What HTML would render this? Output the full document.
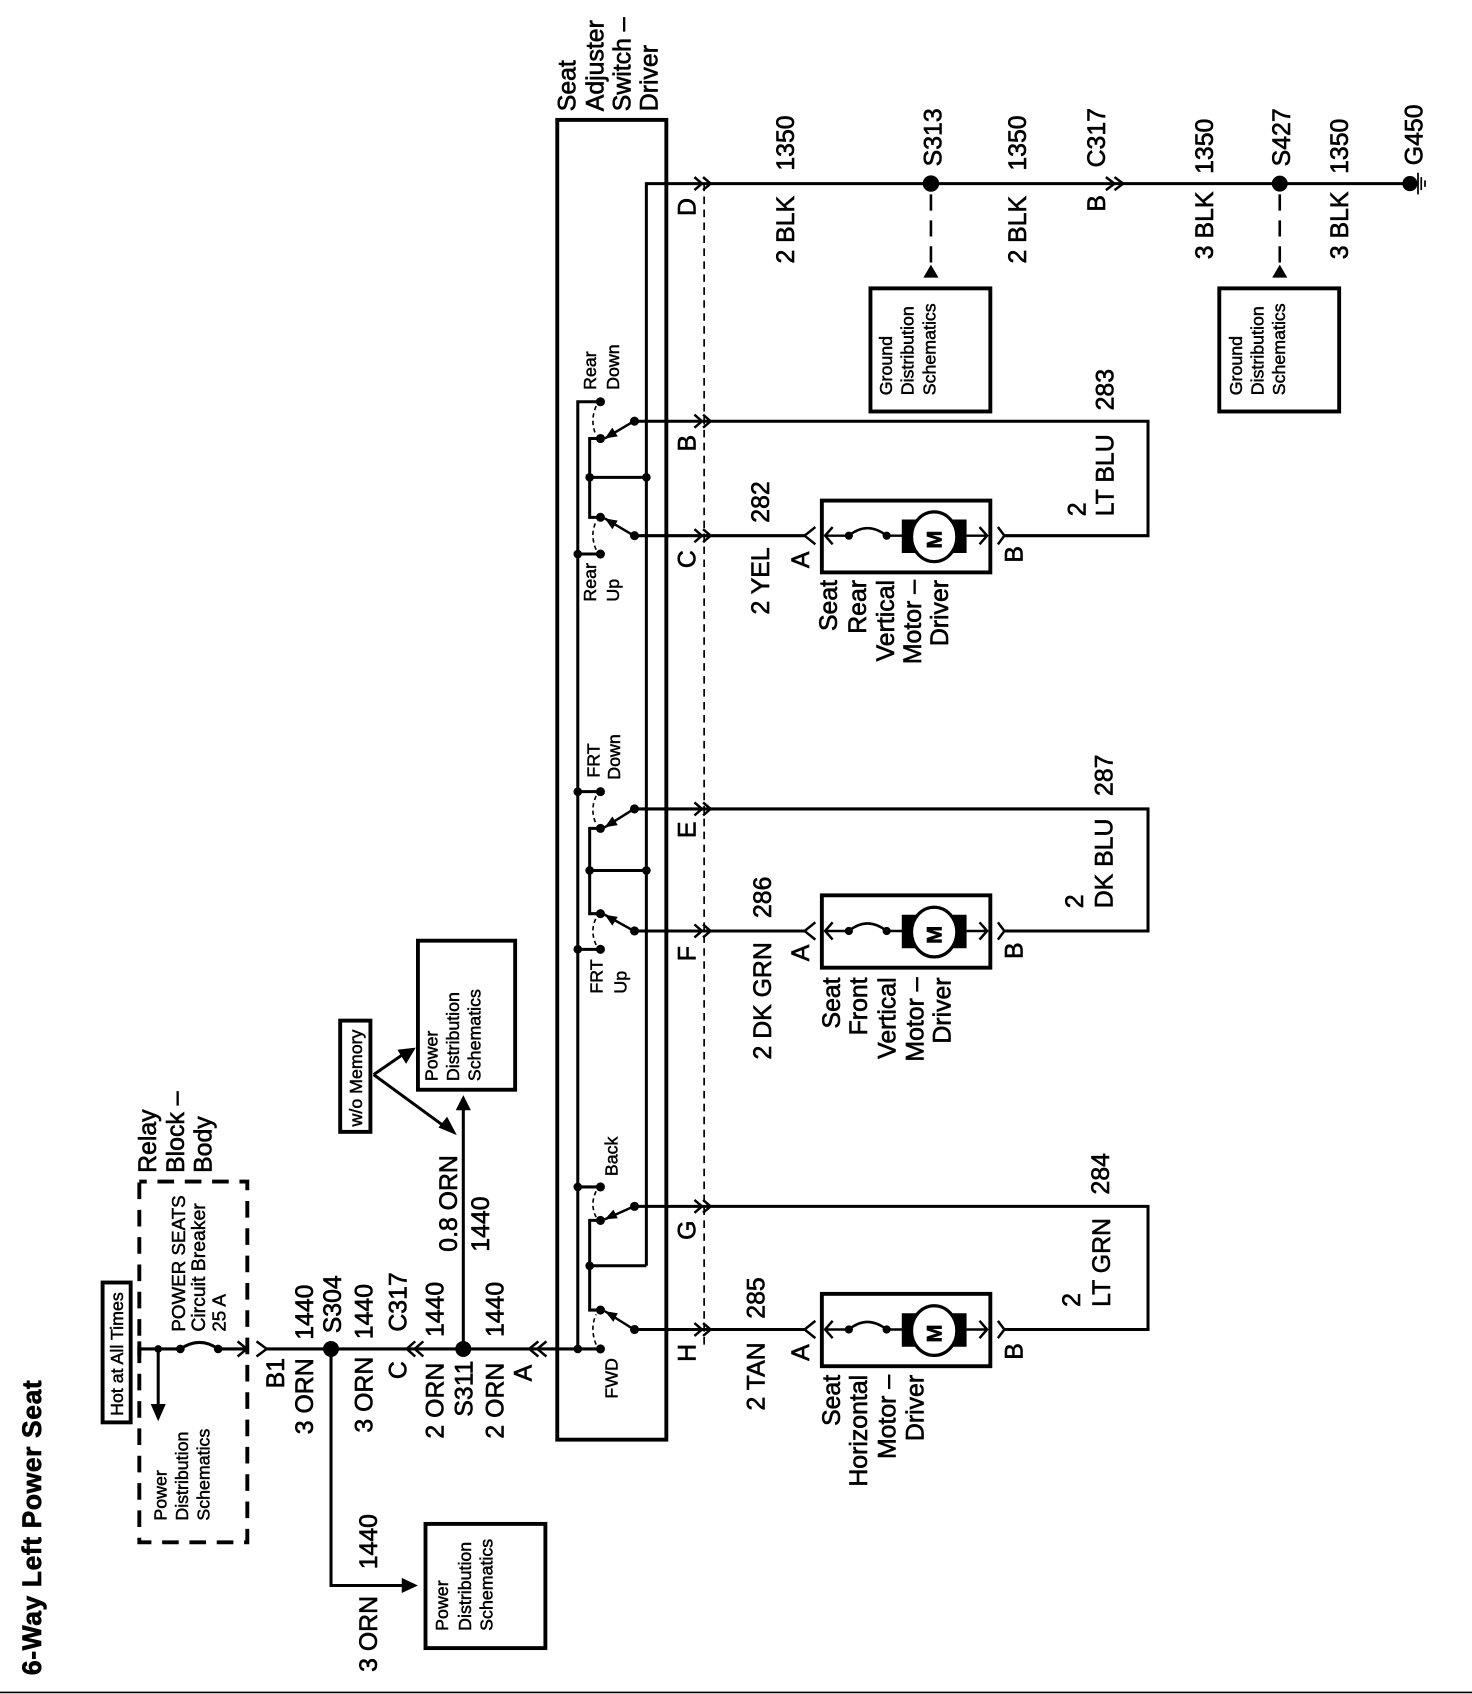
<!DOCTYPE html>
<html><head><meta charset="utf-8"><style>
html,body{margin:0;padding:0;background:#fff;width:1472px;height:1694px;overflow:hidden}
svg{display:block}
text{font-family:"Liberation Sans",sans-serif;fill:#000;stroke:#000;stroke-width:.6}
.b{font-size:23px}.s{font-size:16.5px}.s text{stroke-width:.45}
.e{text-anchor:end}
.w{fill:none;stroke:#000;stroke-width:2.8}
.k{fill:none;stroke:#000;stroke-width:3.6}
.c{fill:none;stroke:#000;stroke-width:2.3}
.f{fill:#000;stroke:none}
</style></head><body>
<svg width="1472" height="1694" viewBox="0 0 1363 1568.5" preserveAspectRatio="none" xmlns="http://www.w3.org/2000/svg">
<rect width="1363" height="1569" fill="#fff"/>
<path d="M0 1567H1363" stroke="#000" stroke-width="1.5"/>
<text transform="matrix(0 -1 1 0 38 1551)" style="font-size:24.5px;font-weight:bold" textLength="273">6-Way Left Power Seat</text>

<!-- switch box -->
<rect class="k" x="516" y="111" width="101" height="1222"/>
<path d="M652 170V1245" stroke="#000" stroke-width="1.6" stroke-dasharray="7 5" fill="none"/>
<g class="b">
<text transform="matrix(0 -1 1 0 533 103)">Seat</text>
<text transform="matrix(0 -1 1 0 559 103)">Adjuster</text>
<text transform="matrix(0 -1 1 0 584 103)">Switch –</text>
<text transform="matrix(0 -1 1 0 609 103)">Driver</text>
</g>

<!-- wires -->
<path class="w" d="M598.5 1172V170H1305"/>
<path class="w" d="M546 1172H598.5"/>
<path class="w" d="M535 1249V372H556M535 513H556M535 733H556M535 879H556M535 1099H556"/>
<path class="w" d="M587 390H1063V496H930"/>
<path class="w" d="M587 496H745"/>
<path class="w" d="M587 749H1063V862H930"/>
<path class="w" d="M587 862H745"/>
<path class="w" d="M587 1117H1063V1231H930"/>
<path class="w" d="M587 1231H745"/>
<path class="w" d="M555 406H546V479H555M546 442H598"/>
<path class="w" d="M555 767H546V846H555M546 806H598"/>
<path class="w" d="M555 1130H546V1213H555"/>
<path class="w" d="M129 1249H167M202 1249H228M247 1249H555"/>
<path class="w" d="M167 1249Q185 1237 202 1249"/>
<path d="M129 1242V1256" stroke="#000" stroke-width="3.6"/>
<path class="w" d="M146.5 1249V1305"/>
<path class="f" d="M146.5 1316L139.5 1300H153.5Z"/>
<path class="w" d="M306.5 1249V1468H375"/>
<path class="f" d="M387 1468L372 1461V1475Z"/>
<path class="w" d="M429 1249V1025"/>
<path class="f" d="M429 1014L422 1028H436Z"/>
<path class="w" d="M346 995L375 975M346 995L413 1044"/>
<path class="f" d="M385 970L368 972L376 985Z"/>
<path class="f" d="M423 1051L406 1044L414 1034Z"/>

<!-- wipers -->
<path class="c" d="M587 390L560 406M587 496L560 480M587 749L560 766M587 862L560 847M587 1117L560 1129M587 1231L560 1214"/>
<path class="f" d="M560 406L572 404L567 396Z M560 480L572 482L567 490Z M560 766L572 764L567 756Z M560 847L572 849L567 857Z M560 1129L572 1128L568 1120Z M560 1214L572 1216L568 1224Z"/>
<!-- dotted arcs -->
<path d="M552 376Q546 390 552 403M552 509Q546 495 552 483M552 737Q546 750 552 763M552 875Q546 862 552 850M552 1103Q546 1115 552 1127M552 1245Q546 1230 552 1217" fill="none" stroke="#000" stroke-width="1.5" stroke-dasharray="4 3"/>

<!-- dots -->
<g class="f">
<circle cx="556" cy="372" r="4.2"/><circle cx="556" cy="406" r="4.2"/><circle cx="587.5" cy="390" r="4.2"/><circle cx="546" cy="442" r="4"/><circle cx="598.5" cy="442" r="4"/><circle cx="556" cy="479" r="4.2"/><circle cx="587.5" cy="496" r="4.2"/><circle cx="556" cy="513" r="4.2"/><circle cx="535" cy="513" r="4"/>
<circle cx="556" cy="733" r="4.2"/><circle cx="535" cy="733" r="4"/><circle cx="556" cy="767" r="4.2"/><circle cx="587.5" cy="749" r="4.2"/><circle cx="546" cy="806" r="4"/><circle cx="598.5" cy="806" r="4"/><circle cx="556" cy="846" r="4.2"/><circle cx="587.5" cy="862" r="4.2"/><circle cx="556" cy="879" r="4.2"/><circle cx="535" cy="879" r="4"/>
<circle cx="556" cy="1099" r="4.2"/><circle cx="535" cy="1099" r="4"/><circle cx="556" cy="1130" r="4.2"/><circle cx="587.5" cy="1117" r="4.2"/><circle cx="546" cy="1172" r="4"/><circle cx="556" cy="1213" r="4.2"/><circle cx="587.5" cy="1231" r="4.2"/><circle cx="556" cy="1249" r="4.2"/><circle cx="535" cy="1249" r="4"/>
<circle cx="862" cy="170" r="7.6"/><circle cx="1185" cy="170" r="7.4"/><circle cx="1305.5" cy="170" r="7"/>
<circle cx="306.5" cy="1249" r="7.4"/><circle cx="429" cy="1249" r="7.4"/>
<circle cx="146.5" cy="1249" r="3.5"/><circle cx="167" cy="1249" r="4"/><circle cx="202" cy="1249" r="4"/>
</g>

<!-- chevrons -->
<path class="c" d="M643 164L650 170L643 176M651 164L658 170L651 176M643 384L650 390L643 396M651 384L658 390L651 396M643 490L650 496L643 502M651 490L658 496L651 502M643 743L650 749L643 755M651 743L658 749L651 755M643 856L650 862L643 868M651 856L658 862L651 868M643 1111L650 1117L643 1123M651 1111L658 1117L651 1123M643 1225L650 1231L643 1237M651 1225L658 1231L651 1237"/>
<path class="c" d="M1024 164L1032 170L1024 176M1032 164L1040 170L1032 176"/>
<path class="c" d="M220 1242L228.5 1249L220 1256M237.5 1242L247 1249L237.5 1256"/>
<path class="c" d="M384.5 1242L376.5 1249L384.5 1256M392 1242L384 1249L392 1256M498.5 1242L490 1249L498.5 1256M506 1242L497.5 1249L506 1256"/>
<!-- ground -->
<path d="M1313 160V180M1316 164V176M1319.5 167V173" stroke="#000" stroke-width="1.6" fill="none"/>

<!-- ground dashes & boxes -->
<path d="M862 170V250M1185 170V250" fill="none" stroke="#000" stroke-width="2.4" stroke-dasharray="15 9" stroke-dashoffset="-10"/>
<path class="f" d="M862 245L855 257H869Z M1185 245L1178 257H1192Z"/>
<rect class="k" x="806" y="267" width="111" height="114"/>
<rect class="k" x="1129" y="267" width="111" height="114"/>
<rect class="k" x="387" y="871" width="90" height="138"/>
<rect class="k" x="394" y="1411" width="111" height="115"/>
<rect class="k" x="95" y="1187.5" width="26" height="129.5"/>
<rect class="k" x="315" y="945" width="28" height="103"/>
<rect x="129" y="1094" width="100" height="334" fill="none" stroke="#000" stroke-width="3.6" stroke-dasharray="15.4 9.9" stroke-dashoffset="8.5"/>

<!-- motors -->
<rect class="k" x="761" y="463.5" width="156" height="66.5"/>
<rect class="k" x="761" y="829" width="156" height="67"/>
<rect class="k" x="761" y="1198" width="156" height="67"/>
<g>
<path class="c" d="M764 496H786M821 496H836M895 496H914M786 496Q803 482 821 496M771 488L764 496L771 504M907 488L914 496L907 504M755 488L745 496L755 504M924 488L930 496L924 504"/>
<path class="f" d="M835 481H895V512H835Z"/>
<ellipse cx="865" cy="497" rx="21" ry="23" fill="#fff" stroke="#000" stroke-width="3"/>
<text transform="matrix(0 -1 1 0 872 508)" style="font-weight:bold;font-size:20px">M</text>
<circle class="f" cx="786" cy="496" r="3.8"/><circle class="f" cx="821" cy="496" r="3.8"/>
</g>
<g>
<path class="c" d="M764 862H786M821 862H836M895 862H914M786 862Q803 848 821 862M771 854L764 862L771 870M907 854L914 862L907 870M755 854L745 862L755 870M924 854L930 862L924 870"/>
<path class="f" d="M835 847H895V878H835Z"/>
<ellipse cx="865" cy="863" rx="21" ry="23" fill="#fff" stroke="#000" stroke-width="3"/>
<text transform="matrix(0 -1 1 0 872 874)" style="font-weight:bold;font-size:20px">M</text>
<circle class="f" cx="786" cy="862" r="3.8"/><circle class="f" cx="821" cy="862" r="3.8"/>
</g>
<g>
<path class="c" d="M764 1231H786M821 1231H836M895 1231H914M786 1231Q803 1217 821 1231M771 1223L764 1231L771 1239M907 1223L914 1231L907 1239M755 1223L745 1231L755 1239M924 1223L930 1231L924 1239"/>
<path class="f" d="M835 1216H895V1247H835Z"/>
<ellipse cx="865" cy="1232" rx="21" ry="23" fill="#fff" stroke="#000" stroke-width="3"/>
<text transform="matrix(0 -1 1 0 872 1243)" style="font-weight:bold;font-size:20px">M</text>
<circle class="f" cx="786" cy="1231" r="3.8"/><circle class="f" cx="821" cy="1231" r="3.8"/>
</g>

<!-- big labels -->
<g class="b">
<text transform="matrix(0 -1 1 0 735 158)">1350</text>
<text transform="matrix(0 -1 1 0 735 244)">2 BLK</text>
<text transform="matrix(0 -1 1 0 872 154)">S313</text>
<text transform="matrix(0 -1 1 0 950 158)">1350</text>
<text transform="matrix(0 -1 1 0 950 244)">2 BLK</text>
<text transform="matrix(0 -1 1 0 1023 155)">C317</text>
<text transform="matrix(0 -1 1 0 1023 196)">B</text>
<text transform="matrix(0 -1 1 0 1123 161)">1350</text>
<text transform="matrix(0 -1 1 0 1123 240)">3 BLK</text>
<text transform="matrix(0 -1 1 0 1194.5 154)">S427</text>
<text transform="matrix(0 -1 1 0 1248 161)">1350</text>
<text transform="matrix(0 -1 1 0 1248 240)">3 BLK</text>
<text transform="matrix(0 -1 1 0 1317 153)">G450</text>

<text transform="matrix(0 -1 1 0 644 200)">D</text>
<text transform="matrix(0 -1 1 0 644 418)">B</text>
<text transform="matrix(0 -1 1 0 644 526)">C</text>
<text transform="matrix(0 -1 1 0 644 776)">E</text>
<text transform="matrix(0 -1 1 0 644 890)">F</text>
<text transform="matrix(0 -1 1 0 644 1148)">G</text>
<text transform="matrix(0 -1 1 0 644 1261)">H</text>

<text transform="matrix(0 -1 1 0 1031 380)">283</text>
<text transform="matrix(0 -1 1 0 1031 478)">LT BLU</text>
<text transform="matrix(0 -1 1 0 1005 478)">2</text>
<text transform="matrix(0 -1 1 0 712 484)">282</text>
<text transform="matrix(0 -1 1 0 712 569)">2 YEL</text>
<text transform="matrix(0 -1 1 0 749 526)">A</text>
<text transform="matrix(0 -1 1 0 947 521)">B</text>
<text class="e" transform="matrix(0 -1 1 0 775 537)">Seat</text>
<text class="e" transform="matrix(0 -1 1 0 802 537)">Rear</text>
<text class="e" transform="matrix(0 -1 1 0 828 537)">Vertical</text>
<text class="e" transform="matrix(0 -1 1 0 853 537)">Motor –</text>
<text class="e" transform="matrix(0 -1 1 0 878 537)">Driver</text>

<text transform="matrix(0 -1 1 0 1030 737)">287</text>
<text transform="matrix(0 -1 1 0 1030 841)">DK BLU</text>
<text transform="matrix(0 -1 1 0 1003 841)">2</text>
<text transform="matrix(0 -1 1 0 714 850)">286</text>
<text transform="matrix(0 -1 1 0 714 981)">2 DK GRN</text>
<text transform="matrix(0 -1 1 0 749 890)">A</text>
<text transform="matrix(0 -1 1 0 947 888)">B</text>
<text class="e" transform="matrix(0 -1 1 0 778 905)">Seat</text>
<text class="e" transform="matrix(0 -1 1 0 803 905)">Front</text>
<text class="e" transform="matrix(0 -1 1 0 829 905)">Vertical</text>
<text class="e" transform="matrix(0 -1 1 0 855 905)">Motor –</text>
<text class="e" transform="matrix(0 -1 1 0 880 905)">Driver</text>

<text transform="matrix(0 -1 1 0 1027 1106)">284</text>
<text transform="matrix(0 -1 1 0 1028 1210)">LT GRN</text>
<text transform="matrix(0 -1 1 0 1000 1210)">2</text>
<text transform="matrix(0 -1 1 0 708 1221)">285</text>
<text transform="matrix(0 -1 1 0 708 1306)">2 TAN</text>
<text transform="matrix(0 -1 1 0 749 1260)">A</text>
<text transform="matrix(0 -1 1 0 947 1259)">B</text>
<text class="e" transform="matrix(0 -1 1 0 778 1273)">Seat</text>
<text class="e" transform="matrix(0 -1 1 0 803 1273)">Horizontal</text>
<text class="e" transform="matrix(0 -1 1 0 829 1273)">Motor –</text>
<text class="e" transform="matrix(0 -1 1 0 855 1273)">Driver</text>

<text transform="matrix(0 -1 1 0 144.4 1086)">Relay</text>
<text transform="matrix(0 -1 1 0 170.4 1086)">Block –</text>
<text transform="matrix(0 -1 1 0 196 1086)">Body</text>
<text transform="matrix(0 -1 1 0 263 1285.5)">B1</text>
<text transform="matrix(0 -1 1 0 290 1328)">3 ORN</text>
<text transform="matrix(0 -1 1 0 290 1240.5)">1440</text>
<text transform="matrix(0 -1 1 0 315.7 1234.5)">S304</text>
<text transform="matrix(0 -1 1 0 345 1326.5)">3 ORN</text>
<text transform="matrix(0 -1 1 0 345 1240)">1440</text>
<text transform="matrix(0 -1 1 0 376.5 1233)">C317</text>
<text transform="matrix(0 -1 1 0 376.5 1277)">C</text>
<text transform="matrix(0 -1 1 0 410.5 1332)">2 ORN</text>
<text transform="matrix(0 -1 1 0 410.5 1238)">1440</text>
<text transform="matrix(0 -1 1 0 437.7 1311.7)">S311</text>
<text transform="matrix(0 -1 1 0 466 1332)">2 ORN</text>
<text transform="matrix(0 -1 1 0 466 1238)">1440</text>
<text transform="matrix(0 -1 1 0 492 1279)">A</text>
<text transform="matrix(0 -1 1 0 423 1159)">0.8 ORN</text>
<text transform="matrix(0 -1 1 0 453 1159)">1440</text>
<text transform="matrix(0 -1 1 0 349 1453)">1440</text>
<text transform="matrix(0 -1 1 0 349 1548)">3 ORN</text>
</g>

<!-- small labels -->
<g class="s">
<text transform="matrix(0 -1 1 0 552 361)">Rear</text>
<text transform="matrix(0 -1 1 0 573 361)">Down</text>
<text transform="matrix(0 -1 1 0 552 557)">Rear</text>
<text transform="matrix(0 -1 1 0 573 557)">Up</text>
<text transform="matrix(0 -1 1 0 555 720)">FRT</text>
<text transform="matrix(0 -1 1 0 574 722)">Down</text>
<text transform="matrix(0 -1 1 0 558 920)">FRT</text>
<text transform="matrix(0 -1 1 0 580 920)">Up</text>
<text transform="matrix(0 -1 1 0 572 1089)">Back</text>
<text transform="matrix(0 -1 1 0 572 1295)">FWD</text>
<text transform="matrix(0 -1 1 0 114 1311)">Hot at All Times</text>
<text transform="matrix(0 -1 1 0 335 1043)">w/o Memory</text>
<text transform="matrix(0 -1 1 0 171.3 1233)" style="font-size:17.4px">POWER SEATS</text>
<text transform="matrix(0 -1 1 0 189.8 1233)" style="font-size:18px">Circuit Breaker</text>
<text transform="matrix(0 -1 1 0 209 1233)" style="font-size:17.4px">25 A</text>
<text transform="matrix(0 -1 1 0 154 1408)">Power</text>
<text transform="matrix(0 -1 1 0 174 1408)">Distribution</text>
<text transform="matrix(0 -1 1 0 194 1408)">Schematics</text>
<text transform="matrix(0 -1 1 0 405 1001)">Power</text>
<text transform="matrix(0 -1 1 0 425 1001)">Distribution</text>
<text transform="matrix(0 -1 1 0 445 1001)">Schematics</text>
<text transform="matrix(0 -1 1 0 415 1510)">Power</text>
<text transform="matrix(0 -1 1 0 436 1510)">Distribution</text>
<text transform="matrix(0 -1 1 0 456 1510)">Schematics</text>
<text transform="matrix(0 -1 1 0 826 366)">Ground</text>
<text transform="matrix(0 -1 1 0 846 366)">Distribution</text>
<text transform="matrix(0 -1 1 0 866 366)">Schematics</text>
<text transform="matrix(0 -1 1 0 1150 366)">Ground</text>
<text transform="matrix(0 -1 1 0 1170 366)">Distribution</text>
<text transform="matrix(0 -1 1 0 1190 366)">Schematics</text>
</g>
</svg>
</body></html>
